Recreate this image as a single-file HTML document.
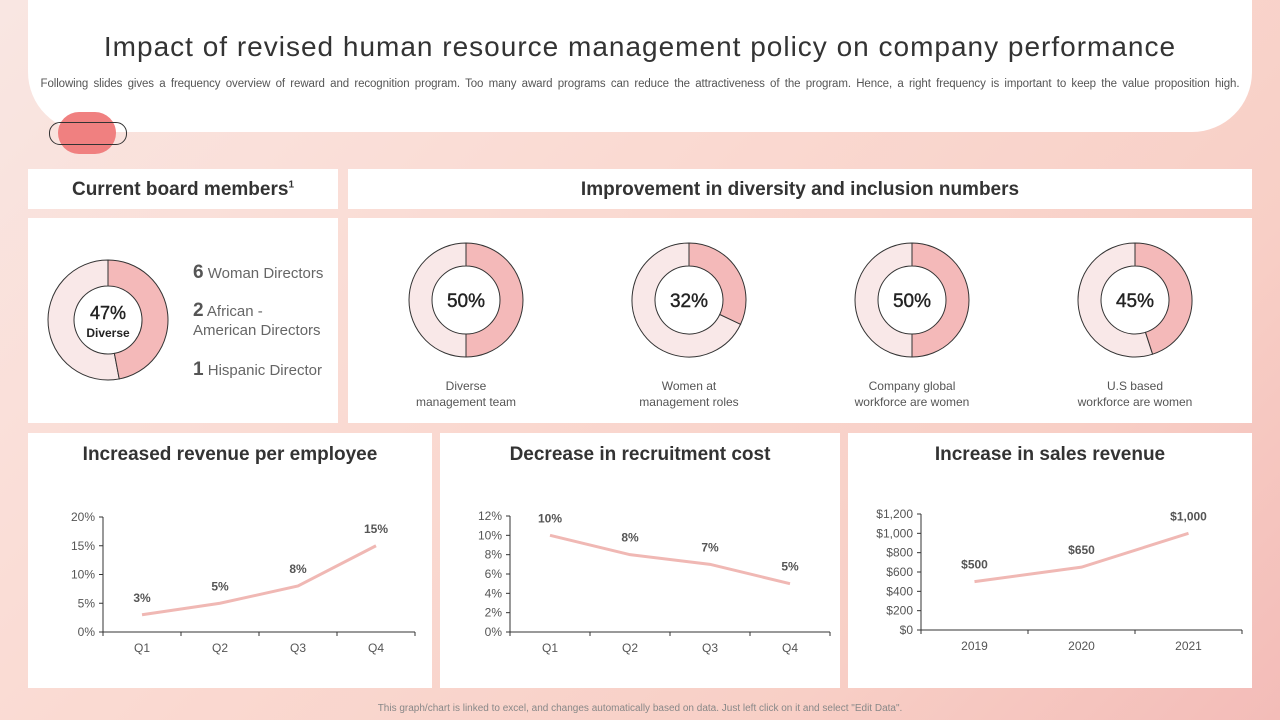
<!DOCTYPE html>
<html><head><meta charset="utf-8"><style>
body{margin:0;width:1280px;height:720px;overflow:hidden;font-family:"Liberation Sans",sans-serif;background:linear-gradient(135deg,#f9e6e2 0%,#fadad2 40%,#f8cfc6 75%,#f3bcb8 100%);position:relative}
.p{position:absolute;background:#fff}
.h{font-weight:bold;font-size:19px;color:#333;text-align:center}
.t{position:absolute;color:#555;font-size:13px;text-align:center}
svg text{font-family:"Liberation Sans",sans-serif}
</style></head><body>
<div class="p" style="left:28px;top:0;width:1224px;height:132px;border-radius:0 0 60px 60px"></div>
<div style="position:absolute;left:0;width:1280px;top:31px;text-align:center;font-size:28px;letter-spacing:1px;color:#333">Impact of revised human resource management policy on company performance</div>
<div style="position:absolute;left:0;width:1280px;top:78px;text-align:center;font-size:11.5px;letter-spacing:-0.1px;word-spacing:2.2px;color:#555">Following slides gives a frequency overview of reward and recognition program. Too many award programs can reduce the attractiveness of the program. Hence, a right frequency is important to keep the value proposition high.</div>
<div style="position:absolute;left:58px;top:112px;width:58px;height:42px;border-radius:21px;background:#f08080"></div>
<div style="position:absolute;left:49px;top:122px;width:76px;height:21px;border:1px solid #333;border-radius:11px"></div>

<div class="p h" style="left:28px;top:169px;width:310px;height:40px;line-height:42px">Current board members<sup style="font-size:10px;line-height:0">1</sup></div>
<div class="p h" style="left:348px;top:169px;width:904px;height:40px;line-height:42px">Improvement in diversity and inclusion numbers</div>
<div class="p" style="left:28px;top:218px;width:310px;height:205px"></div>
<div class="p" style="left:348px;top:218px;width:904px;height:205px"></div>
<div class="p" style="left:28px;top:433px;width:404px;height:255px"></div>
<div class="p" style="left:440px;top:433px;width:400px;height:255px"></div>
<div class="p" style="left:848px;top:433px;width:404px;height:255px"></div>

<div class="h" style="position:absolute;left:28px;width:404px;top:444px">Increased revenue per employee</div>
<div class="h" style="position:absolute;left:440px;width:400px;top:444px">Decrease in recruitment cost</div>
<div class="h" style="position:absolute;left:848px;width:404px;top:444px">Increase in sales revenue</div>

<div style="position:absolute;left:193px;top:263px;color:#666;font-size:15px;line-height:19px">
<div><b style="font-size:19px;color:#555">6</b> Woman Directors</div>
<div style="margin-top:18px"><b style="font-size:19px;color:#555">2</b> African -<br>American Directors</div>
<div style="margin-top:20px"><b style="font-size:19px;color:#555">1</b> Hispanic Director</div>
</div>

<div class="t" style="left:366px;width:200px;top:378px;font-size:12px;line-height:16px">Diverse<br>management team</div>
<div class="t" style="left:589px;width:200px;top:378px;font-size:12px;line-height:16px">Women at<br>management roles</div>
<div class="t" style="left:812px;width:200px;top:378px;font-size:12px;line-height:16px">Company global<br>workforce are women</div>
<div class="t" style="left:1035px;width:200px;top:378px;font-size:12px;line-height:16px">U.S based<br>workforce are women</div>

<div style="position:absolute;left:0;width:1280px;top:703px;text-align:center;font-size:10px;color:#888">This graph/chart is linked to excel, and changes automatically based on data. Just left click on it and select "Edit Data".</div>

<svg id="s" width="1280" height="720" style="position:absolute;left:0;top:0"></svg>
<script>
const donutValues=[47,50,32,50,45];
const donutTexts=["47%","50%","32%","50%","45%"];
const revCats=["Q1","Q2","Q3","Q4"];
const revVals=[3,5,8,15];
const revTicks=["0%","5%","10%","15%","20%"];
const recCats=["Q1","Q2","Q3","Q4"];
const recVals=[10,8,7,5];
const recTicks=["0%","2%","4%","6%","8%","10%","12%"];
const salesCats=["2019","2020","2021"];
const salesVals=[500,650,1000];
const salesTicks=["$0","$200","$400","$600","$800","$1,000","$1,200"];

const NS="http://www.w3.org/2000/svg",S=document.getElementById('s');
function el(t,a,p){const e=document.createElementNS(NS,t);for(const k in a)e.setAttribute(k,a[k]);(p||S).appendChild(e);return e}
function arcPath(cx,cy,R,r,a0,a1){
  const f=a=>[Math.sin(a),-Math.cos(a)];
  const [s0,c0]=f(a0),[s1,c1]=f(a1);const lg=(a1-a0)>Math.PI?1:0;
  return `M${cx+R*s0} ${cy+R*c0} A${R} ${R} 0 ${lg} 1 ${cx+R*s1} ${cy+R*c1} L${cx+r*s1} ${cy+r*c1} A${r} ${r} 0 ${lg} 0 ${cx+r*s0} ${cy+r*c0} Z`;
}
const donutPos=[[108,320,60,34],[466,300,57,34],[689,300,57,34],[912,300,57,34],[1135,300,57,34]];
donutValues.forEach((v,i)=>{
  const [cx,cy,R,r]=donutPos[i];const a=v/100*2*Math.PI;
  const g=el('g',{});
  
  
  const bg=el('path',{d:arcPath(cx,cy,R,r,a,2*Math.PI-0.0001),fill:'#f9e8e8',stroke:'#333','stroke-width':1},g);
  
  
  const fg=el('path',{d:arcPath(cx,cy,R,r,0,a),fill:'#f4b9b9',stroke:'#333','stroke-width':1},g);
  
  
  const tx=el('text',{x:cx,y:i==0?cy-1:cy+7,'text-anchor':'middle','font-size':i==0?18:19,fill:'#222','stroke':'#222','stroke-width':0.4},g);
  tx.textContent=donutTexts[i];
  
  
  if(i==0){const d=el('text',{x:cx,y:cy+17,'text-anchor':'middle','font-size':12,'font-weight':'bold',fill:'#222'},g);d.textContent='Diverse';
  
  }
});
function lineChart(name,cats,vals,ticks,max,x0,x1,yTop,yBot,labels){
  const g=el('g',{});
  
  
  const n=cats.length,bw=(x1-x0)/n;
  const X=i=>x0+bw*(i+0.5),Y=v=>yBot-(v/max)*(yBot-yTop);
  el('line',{x1:x0,y1:yTop,x2:x0,y2:yBot,stroke:'#333'},g);
  el('line',{x1:x0,y1:yBot,x2:x1,y2:yBot,stroke:'#333'},g);
  ticks.forEach((t,i)=>{const v=max*i/(ticks.length-1);
    el('line',{x1:x0-4,y1:Y(v),x2:x0,y2:Y(v),stroke:'#333'},g);
    const tx=el('text',{x:x0-8,y:Y(v)+4,'text-anchor':'end','font-size':12,fill:'#555'},g);tx.textContent=t;
    
    });
  for(let i=0;i<=n;i++)el('line',{x1:x0+bw*i,y1:yBot,x2:x0+bw*i,y2:yBot+4,stroke:'#333'},g);
  cats.forEach((c,i)=>{const tx=el('text',{x:X(i),y:yBot+20,'text-anchor':'middle','font-size':12,fill:'#555'},g);tx.textContent=c;
    
    });
  const ln=el('polyline',{points:vals.map((v,i)=>X(i)+','+Y(v)).join(' '),fill:'none',stroke:'#f0b8b4','stroke-width':3},g);
  
  
  vals.forEach((v,i)=>{const tx=el('text',{x:X(i),y:Y(v)-13,'text-anchor':'middle','font-size':12,'font-weight':'bold',fill:'#555'},g);tx.textContent=labels[i];
    
    });
}
lineChart('revenue-chart',revCats,revVals,revTicks,20,103,415,517,632,revVals.map(v=>v+'%'));
lineChart('recruit-chart',recCats,recVals,recTicks,12,510,830,516,632,recVals.map(v=>v+'%'));
lineChart('sales-chart',salesCats,salesVals,salesTicks,1200,921,1242,514,630,salesVals.map(v=>'$'+v.toLocaleString('en-US')));
</script>
</body></html>
